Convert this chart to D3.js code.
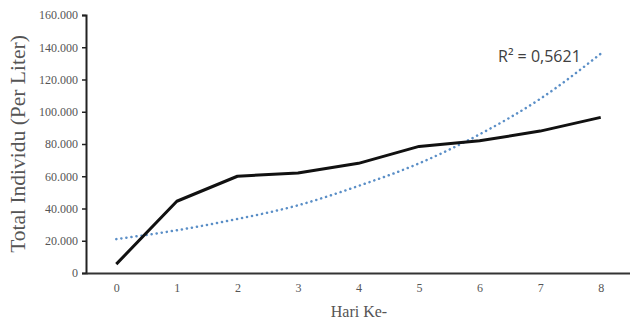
<!DOCTYPE html>
<html>
<head>
<meta charset="utf-8">
<script src="https://cdn.jsdelivr.net/npm/d3@7"></script>
<style>
  body { margin: 0; background: #fff; }
  svg { display: block; }
</style>
</head>
<body>
<svg id="chart" width="630" height="322"></svg>
<script>
var days = ["0", "1", "2", "3", "4", "5", "6", "7", "8"]
var totalIndividu = [5500, 44500, 60000, 62000, 68000, 78500, 82000, 88000, 96500]
// dotted trendline at each day
var trendValues = [21000, 26500, 33500, 42000, 54000, 68000, 86000, 108000, 136000]
var yTicks = [0, 20000, 40000, 60000, 80000, 100000, 120000, 140000, 160000]
var rSquaredLabel = "R² = 0,5621"

var svg = d3.select("#chart")
var margin = { top: 15, left: 86, bottom: 49, right: 0 }
var height = 322
var serif = "'Liberation Serif', 'DejaVu Serif', serif"

var locale = d3.formatLocale({ decimal: ",", thousands: ".", grouping: [3], currency: ["", ""] })
var fmt = locale.format(",")

var X_scale = d3.scalePoint().domain(days).range([margin.left, 631]).padding(0.5)
var Y_scale = d3.scaleLinear().domain([0, 160000]).range([height - margin.bottom, margin.top])

// y axis
var yAxis = svg.append("g")
    .attr("transform", `translate(${margin.left},0)`)
    .call(d3.axisLeft(Y_scale).tickValues(yTicks).tickSize(4).tickFormat(function (d) { return d === 0 ? "0" : fmt(d) }))
yAxis.select(".domain").attr("stroke", "#222").attr("stroke-width", 2)
yAxis.selectAll(".tick line").attr("stroke", "#222").attr("stroke-width", 1.5)
yAxis.selectAll(".tick text")
    .attr("x", -8)
    .style("font-family", serif)
    .style("font-size", "12px")
    .attr("fill", "#555")

// x axis
var xAxis = svg.append("g")
    .attr("transform", `translate(0,${Y_scale(0)})`)
    .call(d3.axisBottom(X_scale).tickSize(0).tickSizeOuter(0))
xAxis.select(".domain").attr("stroke", "#333").attr("stroke-width", 2)
xAxis.selectAll(".tick text")
    .attr("dy", "1.35em")
    .style("font-family", serif)
    .style("font-size", "12px")
    .attr("fill", "#555")

// axis titles
svg.append("text")
    .attr("transform", `translate(25,144) rotate(-90)`)
    .attr("text-anchor", "middle")
    .style("font-family", serif)
    .style("font-size", "21.5px")
    .attr("fill", "#555")
    .text("Total Individu (Per Liter)")

svg.append("text")
    .attr("x", 359)
    .attr("y", 317)
    .attr("text-anchor", "middle")
    .style("font-family", serif)
    .style("font-size", "16px")
    .attr("fill", "#555")
    .text("Hari Ke-")

// trendline
var trendLine = d3.line()
    .x(function (d, i) { return X_scale(days[i]) })
    .y(function (d) { return Y_scale(d) })
    .curve(d3.curveMonotoneX)

svg.append("path")
    .datum(trendValues)
    .attr("d", trendLine)
    .attr("fill", "none")
    .attr("stroke", "#5b8fc7")
    .attr("stroke-width", 2.5)
    .attr("stroke-linecap", "round")
    .attr("stroke-dasharray", "0.1,5")

// data line
var dataLine = d3.line()
    .x(function (d, i) { return X_scale(days[i]) })
    .y(function (d) { return Y_scale(d) })

svg.append("path")
    .datum(totalIndividu)
    .attr("d", dataLine)
    .attr("fill", "none")
    .attr("stroke", "#111")
    .attr("stroke-width", 3)
    .attr("stroke-linejoin", "round")

svg.append("text")
    .attr("x", 498)
    .attr("y", 62)
    .style("font-family", "'Open Sans', 'Liberation Sans', sans-serif")
    .style("font-size", "16px")
    .attr("fill", "#404040")
    .text(rSquaredLabel)
</script>
</body>
</html>
